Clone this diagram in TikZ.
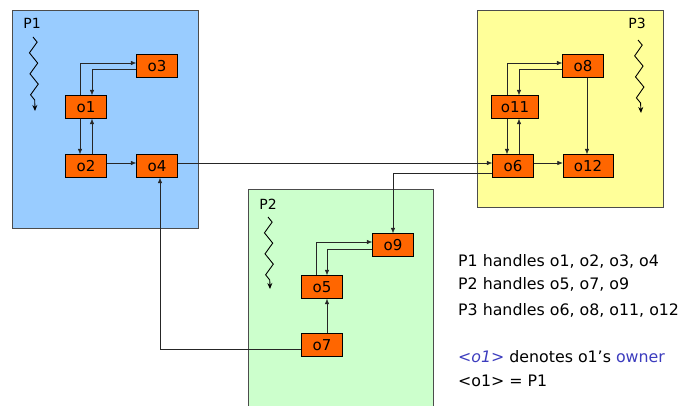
\documentclass[tikz,border=0pt]{standalone}
\usepackage{fontspec}
\setmainfont{DejaVu Sans}
\usepackage{xcolor}
\usetikzlibrary{arrows.meta, decorations.pathmorphing}

\definecolor{procA}{RGB}{153,204,255}
\definecolor{procB}{RGB}{204,255,204}
\definecolor{procC}{RGB}{255,255,153}
\definecolor{objfill}{RGB}{255,102,0}
\definecolor{owner}{RGB}{60,60,190}

\begin{document}
\begin{tikzpicture}[x=1pt,y=-1pt,>={Latex[length=5.5pt,width=4.5pt]},
        proc/.style={draw=black!70,line width=0.8pt},
        obj/.style={draw=black,fill=objfill,minimum width=41pt,minimum height=23pt,
            inner sep=2pt,font=\fontsize{15}{17}\selectfont},
        plabel/.style={font=\fontsize{14}{16}\selectfont},
        link/.style={->,draw=black!85,line width=0.6pt},
        thread/.style={decorate,decoration={zigzag,segment length=21pt,amplitude=4pt,post length=5pt},
            -{Stealth[length=6pt,width=5pt]},line width=0.9pt},
        legend/.style={anchor=base west,inner sep=0pt,font=\fontsize{15.8}{18}\selectfont}]

    \useasboundingbox (0,0) rectangle (683,406);

    % processes
    \fill[procA] (12,10) rectangle (198,228);
    \draw[proc] (12,10) rectangle (198,228);
    \fill[procC] (477,10) rectangle (663,207);
    \draw[proc] (477,10) rectangle (663,207);
    \fill[procB] (248,189) rectangle (433,406);
    \draw[proc] (248,406) -- (248,189) -- (433,189) -- (433,406);

    \node[plabel] (p1) at (32,23) {P1};
    \node[plabel] (p2) at (268,204) {P2};
    \node[plabel] (p3) at (637,23) {P3};

    \draw[thread] (33,37) -- (35,111);
    \draw[thread] (638,40) -- (641,113);
    \draw[thread] (268,217) -- (270,289);

    % objects
    \node[obj] (o3) at (157,66) {o3};
    \node[obj] (o1) at (86,107) {o1};
    \node[obj] (o2) at (86,166) {o2};
    \node[obj] (o4) at (157,166) {o4};

    \node[obj] (o8) at (583,66) {o8};
    \node[obj,minimum width=47pt] (o11) at (515,107) {o11};
    \node[obj] (o6) at (513,166) {o6};
    \node[obj,minimum width=50pt] (o12) at (588,166) {o12};

    \node[obj] (o9) at (393,245) {o9};
    \node[obj] (o5) at (322,287) {o5};
    \node[obj] (o7) at (322,345) {o7};

    % references inside P1
    \draw[link] ([xshift=-6pt]o1.north) |- ([yshift=3pt]o3.west);
    \draw[link] ([yshift=-3pt]o3.west) -| ([xshift=6pt]o1.north);
    \draw[link] ([xshift=-6pt]o1.south) -- ([xshift=-6pt]o2.north);
    \draw[link] ([xshift=6pt]o2.north) -- ([xshift=6pt]o1.south);
    \draw[link] ([yshift=3pt]o2.east) -- ([yshift=3pt]o4.west);

    % references inside P3
    \draw[link] ([xshift=-8pt]o11.north) |- ([yshift=3pt]o8.west);
    \draw[link] ([yshift=-3pt]o8.west) -| ([xshift=4pt]o11.north);
    \draw[link] ([xshift=-8pt]o11.south) -- ([xshift=-8pt]o11.south |- o6.north);
    \draw[link] ([xshift=6pt]o6.north) -- ([xshift=6pt]o6.north |- o11.south);
    \draw[link] ([xshift=4pt]o8.south) -- ([xshift=4pt]o8.south |- o12.north);
    \draw[link] ([yshift=3pt]o6.east) -- ([yshift=3pt]o12.west);

    % references inside P2
    \draw[link] ([xshift=-6pt]o5.north) |- ([yshift=3pt]o9.west);
    \draw[link] ([yshift=-4pt]o9.west) -| ([xshift=5pt]o5.north);
    \draw[link] ([xshift=5pt]o7.north) -- ([xshift=5pt]o5.south);

    % references across processes
    \draw[link] ([yshift=3pt]o4.east) -- ([yshift=3pt]o6.west);
    \draw[link] ([yshift=-7pt]o6.west) -| (o9.north);
    \draw[link] ([yshift=-4pt]o7.west) -| ([xshift=3pt]o4.south);

    % who handles what
    \node[legend] (h1) at (458,266) {P1 handles o1, o2, o3, o4};
    \node[legend] (h2) at (458,290) {P2 handles o5, o7, o9};
    \node[legend] (h3) at (458,315) {P3 handles o6, o8, o11, o12};
    \node[legend] (own) at (458,362) {{\color{owner}\itshape <o1>} denotes o1’s {\color{owner}owner}};
    \node[legend] (eq) at (458,386) {<o1> = P1};
\end{tikzpicture}
\end{document}
